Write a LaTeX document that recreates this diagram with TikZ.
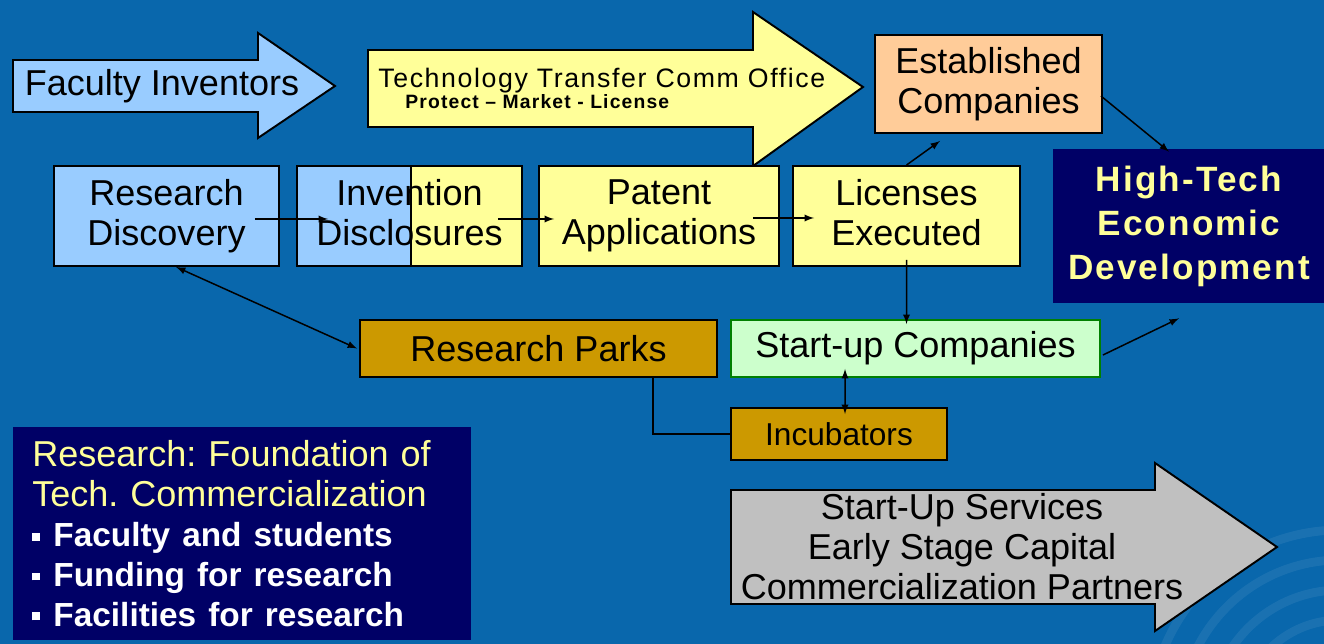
\documentclass[tikz,border=0pt]{standalone}
\usepackage{fontspec}
\setmainfont{Liberation Sans}
\newfontfamily\spaced[LetterSpace=6]{Liberation Sans}
\definecolor{bgblue}{RGB}{9,103,172}
\definecolor{lblue}{RGB}{153,204,255}
\definecolor{lyellow}{RGB}{255,255,153}
\definecolor{peach}{RGB}{255,204,153}
\definecolor{gold}{RGB}{204,153,0}
\definecolor{mint}{RGB}{204,255,204}
\definecolor{navy}{RGB}{0,0,102}
\definecolor{lgrey}{RGB}{192,192,192}
\definecolor{dgreen}{RGB}{0,128,0}
\newcommand{\bul}{\rule[3.5pt]{4.5pt}{4.5pt}\hspace{7.5pt}}
\newcommand{\bigtext}{\fontsize{20.5}{22.7}\selectfont}
\frenchspacing

\begin{document}
\begin{tikzpicture}[x=0.02cm, y=-0.02cm, >=latex,
   box/.style={draw, line width=1.1pt, inner sep=0pt, align=center, font=\bigtext},
   blockarrow/.style={draw, line width=1.1pt},
   link/.style={line width=0.85pt},
   swirl/.style={white, opacity=0.07, line width=5pt}]
         \useasboundingbox (0,0) rectangle (1324,644);
         \fill[bgblue] (0,0) rectangle (1324,644);
         \foreach \r in {190,160,130,100}
           \draw[swirl] (1340,720) circle (\r);
         \draw[blockarrow, fill=lblue] (13,60) -- (258,60) -- (258,33) -- (335,86) -- (258,138) -- (258,112) -- (13,112) -- cycle;
         \draw[blockarrow, fill=lyellow] (368,50) -- (753,50) -- (753,12) -- (863,87) -- (753,166) -- (753,127) -- (368,127) -- cycle;
         \draw[blockarrow, fill=lgrey] (731,490) -- (1155,490) -- (1155,463) -- (1277,547) -- (1155,631) -- (1155,604) -- (731,604) -- cycle;
         \node[font=\bigtext] (FI) at (162,86) {Faculty Inventors};
         \node[anchor=base west, inner sep=0pt, font=\spaced\fontsize{15.2}{17}\selectfont] (TT) at (378,88) {Technology Transfer Comm Office};
         \node[anchor=base west, inner sep=0pt, font=\spaced\bfseries\fontsize{11}{13}\selectfont] (PML) at (405,109) {Protect \textendash{} Market - License};
         \node[align=center, font=\bigtext] (SS) at (962,547) {Start-Up Services\\Early Stage Capital\\Commercialization Partners};
         \node[box, fill=peach, minimum width=4.54cm, minimum height=1.96cm] (EC) at (988.5,84) {Established\\Companies};
         \node[fill=navy, inner sep=0pt, minimum width=5.44cm, minimum height=3.08cm, align=center, text=lyellow, font=\spaced\bfseries\fontsize{20}{25}\selectfont] (HT) at (1189,226) {High-Tech\\Economic\\Development};
         \node[box, fill=lblue, minimum width=4.5cm, minimum height=2cm] (RD) at (166.5,216) {Research\\Discovery};
         \node[box, fill=lyellow, minimum width=4.5cm, minimum height=2cm,
           path picture={\fill[lblue] (path picture bounding box.south west) rectangle ([xshift=2.28cm]path picture bounding box.north west);
             \draw[line width=1.1pt] ([xshift=2.28cm]path picture bounding box.south west) -- ([xshift=2.28cm]path picture bounding box.north west);}] (ID) at (409.5,216) {Invention\\Disclosures\vphantom{p}};
         \node[box, fill=lyellow, minimum width=4.8cm, minimum height=2cm] (PA) at (659,216) {Patent\\Applications};
         \node[box, fill=lyellow, minimum width=4.54cm, minimum height=2cm] (LE) at (906.5,216) {Licenses\\Executed\vphantom{p}};
         \node[box, fill=gold, minimum width=7.14cm, minimum height=1.14cm] (RP) at (538.5,348.5) {Research Parks};
         \node[box, draw=dgreen, fill=mint, minimum width=7.38cm, minimum height=1.14cm] (SC) at (915.5,348.5) {Start-up Companies};
         \node[box, fill=gold, minimum width=4.32cm, minimum height=1.04cm, font=\fontsize{18}{20}\selectfont] (IN) at (839,434) {Incubators};
         \node[fill=navy, anchor=north west, text width=8.4cm, inner xsep=0.38cm, inner ysep=0.27cm, align=left, text=lyellow, font=\bigtext] (RF) at (13,427)
           {Research: Foundation of\\Tech. Commercialization\\\color{white}\bfseries\fontsize{19}{22.7}\selectfont\bul Faculty and students\\\bul Funding for research\\\bul Facilities for research};
         \draw[link, ->] ([xshift=-0.5cm, yshift=-0.06cm]RD.east) -- ([xshift=0.64cm, yshift=-0.06cm]ID.west);
         \draw[link, ->] ([xshift=-0.5cm, yshift=-0.06cm]ID.east) -- ([xshift=0.32cm, yshift=-0.06cm]PA.west);
         \draw[link, ->] ([xshift=-0.54cm, yshift=-0.04cm]PA.east) -- ([xshift=0.44cm, yshift=-0.04cm]LE.west);
         \draw[link, ->] (LE.north) -- ([xshift=-0.97cm, yshift=-0.14cm]EC.south);
         \draw[link, ->] ([xshift=-0.04cm, yshift=-0.24cm]EC.east) -- ([xshift=-0.4cm, yshift=-0.06cm]HT.north);
         \draw[link, ->] ([yshift=0.14cm]LE.south) -- ([xshift=-0.18cm, yshift=-0.1cm]SC.north);
         \draw[link, ->] ([xshift=0.04cm, yshift=-0.13cm]SC.east) -- ([xshift=-0.2cm, yshift=-0.3cm]HT.south);
         \draw[link, <->] ([xshift=0.19cm]RD.south) -- ([xshift=-0.04cm]RP.west);
         \draw[link] ([xshift=2.29cm]RP.south) |- (IN.west);
         \draw[link, <->] ([xshift=-1.41cm, yshift=0.18cm]SC.south) -- ([xshift=0.12cm, yshift=-0.14cm]IN.north);
\end{tikzpicture}
\end{document}
